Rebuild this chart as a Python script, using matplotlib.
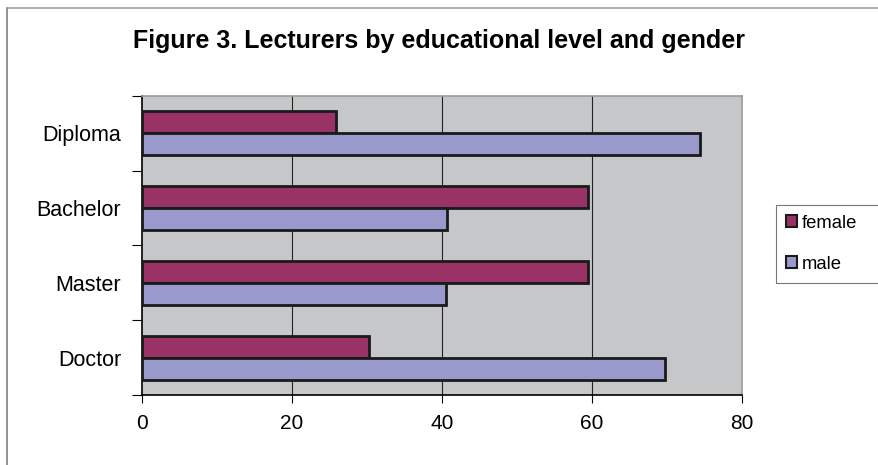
import numpy as np
import matplotlib.pyplot as plt
from matplotlib.patches import Patch
from matplotlib.lines import Line2D

plt.rcParams['font.family'] = ['Liberation Sans', 'DejaVu Sans']

levels = ['Doctor', 'Master', 'Bachelor', 'Diploma']
female = [30.3, 59.5, 59.4, 25.8]
male = [69.7, 40.5, 40.6, 74.4]

female_col = '#993366'
male_col = '#9999CC'

fig = plt.figure(figsize=(8.79, 4.65), dpi=100)
fig.patch.set_facecolor('white')

# outer chart border (Excel style), only left and top visible
fig.add_artist(Line2D([7/879, 7/879], [0, 1 - 8/465], color='#808080', lw=1.2, transform=fig.transFigure))
fig.add_artist(Line2D([7/879, 1], [1 - 8/465, 1 - 8/465], color='#a0a0a0', lw=1.2, transform=fig.transFigure))

ax = fig.add_axes([142/879, 1 - 395/465, 600/879, 299/465])
ax.set_facecolor('#C6C7C9')

y = np.arange(len(levels))
h = 0.295
ax.barh(y + h/2, female, h, color=female_col, edgecolor='#1a1a1a', lw=2, zorder=3)
ax.barh(y - h/2, male, h, color=male_col, edgecolor='#1a1a1a', lw=2, zorder=3)

ax.set_xlim(0, 80)
ax.set_ylim(-0.5, 3.5)
ax.set_xticks([0, 20, 40, 60, 80])
ax.tick_params(axis='x', direction='out', length=6, pad=8, labelsize=15, color='black')
ax.set_yticks(np.arange(-0.5, 4, 1))
ax.set_yticklabels([])
ax.set_yticks(y, minor=True)
ax.set_yticklabels(levels, minor=True, fontsize=15.5)
ax.tick_params(axis='y', which='major', direction='out', length=7, color='black')
ax.tick_params(axis='y', which='minor', length=0, pad=15)

for gx in [20, 40, 60]:
    ax.axvline(gx, color='#222222', lw=0.8, zorder=1)

ax.spines['left'].set_color('black')
ax.spines['bottom'].set_color('black')
ax.spines['top'].set_color('#9a9a9a')
ax.spines['right'].set_color('#9a9a9a')
for s in ax.spines.values():
    s.set_linewidth(1.2)

fig.text(0.5 * (131 + 748) / 879, 1 - 41/465, 'Figure 3. Lecturers by educational level and gender',
         ha='center', va='center', fontsize=18, fontweight='bold')

handles = [Patch(facecolor=female_col, edgecolor='#1a1a1a', lw=1.5),
           Patch(facecolor=male_col, edgecolor='#1a1a1a', lw=1.5)]
leg = fig.legend(handles, ['female', 'male'], loc='lower left', mode='expand',
                 bbox_to_anchor=(776/879, 1 - 283/465, 110/879, 0), borderaxespad=0, fontsize=13.3,
                 handlelength=0.6, handleheight=0.6, handletextpad=0.25,
                 labelspacing=1.3, borderpad=0.55, fancybox=False, frameon=True)
leg.get_frame().set_edgecolor('#555555')
leg.get_frame().set_linewidth(0.8)

fig.savefig('out.png', dpi=100)
